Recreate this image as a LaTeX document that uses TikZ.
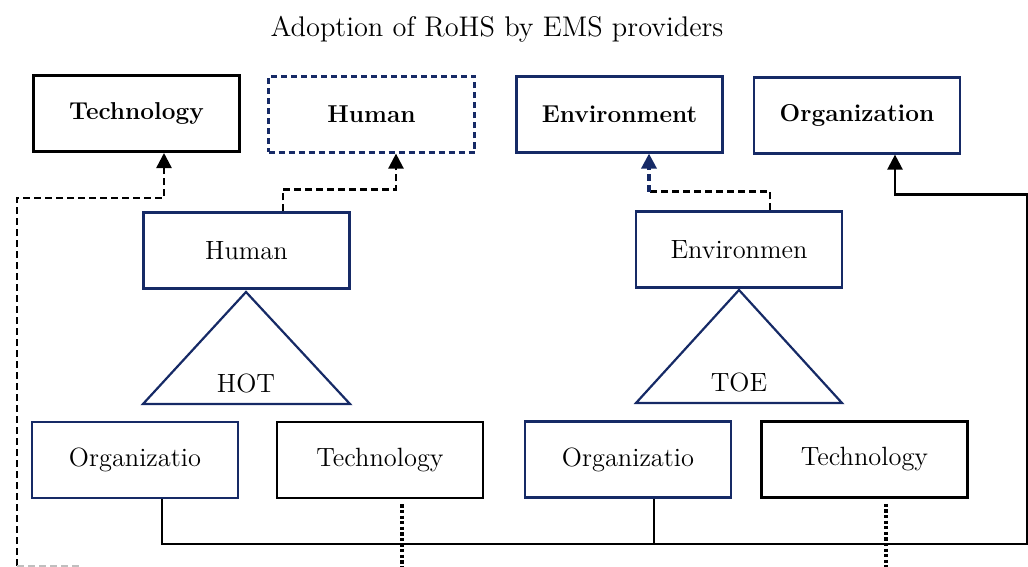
\documentclass[tikz,border=0pt]{standalone}
\usepackage{tikz}
\usetikzlibrary{
	arrows.meta
}
\definecolor{navy}{RGB}{22,42,102}

\tikzset{
	box/.style={draw,line width=1.1pt,minimum width=103pt,minimum height=38pt,inner sep=0pt,font=\fontsize{13.2}{16}\selectfont},
	navybox/.style={box,draw=navy},
	blackbox/.style={box,draw=black,line width=1.3pt},
	headtext/.style={font=\fontsize{12.2}{15}\selectfont\bfseries},
	tri/.style={draw=navy,line width=1.1pt},
	tip/.style={-{Triangle[width=7.5pt,length=7.5pt]}},
	solidlink/.style={line width=1.2pt},
	dashlink/.style={line width=1.2pt,dash pattern=on 3.5pt off 2pt},
	dotlink/.style={line width=1.6pt,dash pattern=on 1.6pt off 1.2pt}
}

\begin{document}
\begin{tikzpicture}[x=0.5pt,y=-0.5pt]
		\useasboundingbox (0,0) rectangle (1028,567);

		\node[font=\fontsize{14.2}{17}\selectfont] (title) at (497,29) {Adoption of RoHS by EMS providers};

		% top row
		\draw
			node[blackbox,headtext,line width=1.5pt]      (techtop) at (136.5,113.5) {Technology}
			node[navybox,headtext,dash pattern=on 3pt off 2pt] (humtop) at (371.5,114.5) {Human}
			node[navybox,headtext]                        (envtop)  at (619.5,114.5) {Environment}
			node[navybox,headtext]                        (orgtop)  at (857,115.5)   {Organization}
		;

		% middle row
		\draw
			node[navybox] (hum) at (246.5,250.5) {Human}
			node[navybox] (env) at (739,249.5)   {Environmen}
		;
		\draw[tri] (246,292) -- (350,404) -- (143,404) -- cycle;
		\draw[tri] (739,290) -- (842,403) -- (636,403) -- cycle;
		\node[font=\fontsize{13.2}{16}\selectfont] (hot) at (246,383) {HOT};
		\node[font=\fontsize{13.2}{16}\selectfont] (toe) at (739,382) {TOE};

		% bottom row
		\draw
			node[navybox]  (orgL)  at (135,460)    {Organizatio}
			node[blackbox] (techL) at (380,460)    {Technology}
			node[navybox]  (orgR)  at (628,459.5)  {Organizatio}
			node[blackbox] (techR) at (864.5,459.5) {Technology}
		;

		\coordinate (floor)  at (0,567);
		\coordinate (corner) at (1027,544);
		\coordinate (lowleft) at (17,566);
		\coordinate (orgRdrop) at ([xshift=13pt]orgR.south);
		\coordinate (techLdrop) at ([xshift=11pt,yshift=-2.5pt]techL.south);
		\coordinate (techRdrop) at ([xshift=10.75pt,yshift=-2.5pt]techR.south);

		% links
		\draw[dashlink,tip] (lowleft) |- ([xshift=13.75pt,yshift=-22.5pt]techtop.south) -- ([xshift=13.75pt]techtop.south);
		\draw[line width=0.8pt,black!25,dash pattern=on 3.5pt off 2pt] (lowleft) -- ++(63,0);
		\draw[dashlink,tip] ([xshift=18.25pt]hum.north) |- ([xshift=12.25pt,yshift=-18pt]humtop.south) -- ([xshift=12.25pt]humtop.south);
		\draw[dashlink] ([xshift=15.5pt]env.north) |- ([xshift=14.75pt,yshift=-19pt]envtop.south);
		\draw[dashlink,tip,navy,line width=1.7pt] ([xshift=14.75pt,yshift=-19pt]envtop.south) -- ([xshift=14.75pt]envtop.south);
		\draw[solidlink,tip] ([xshift=13.5pt]orgL.south) |- (corner) |- ([xshift=19pt,yshift=-20pt]orgtop.south) -- ([xshift=19pt]orgtop.south);
		\draw[solidlink] (orgRdrop) -- (orgRdrop |- corner);
		\draw[dotlink] (techLdrop) -- (techLdrop |- floor);
		\draw[dotlink] (techRdrop) -- (techRdrop |- floor);
	\end{tikzpicture}
\end{document}
